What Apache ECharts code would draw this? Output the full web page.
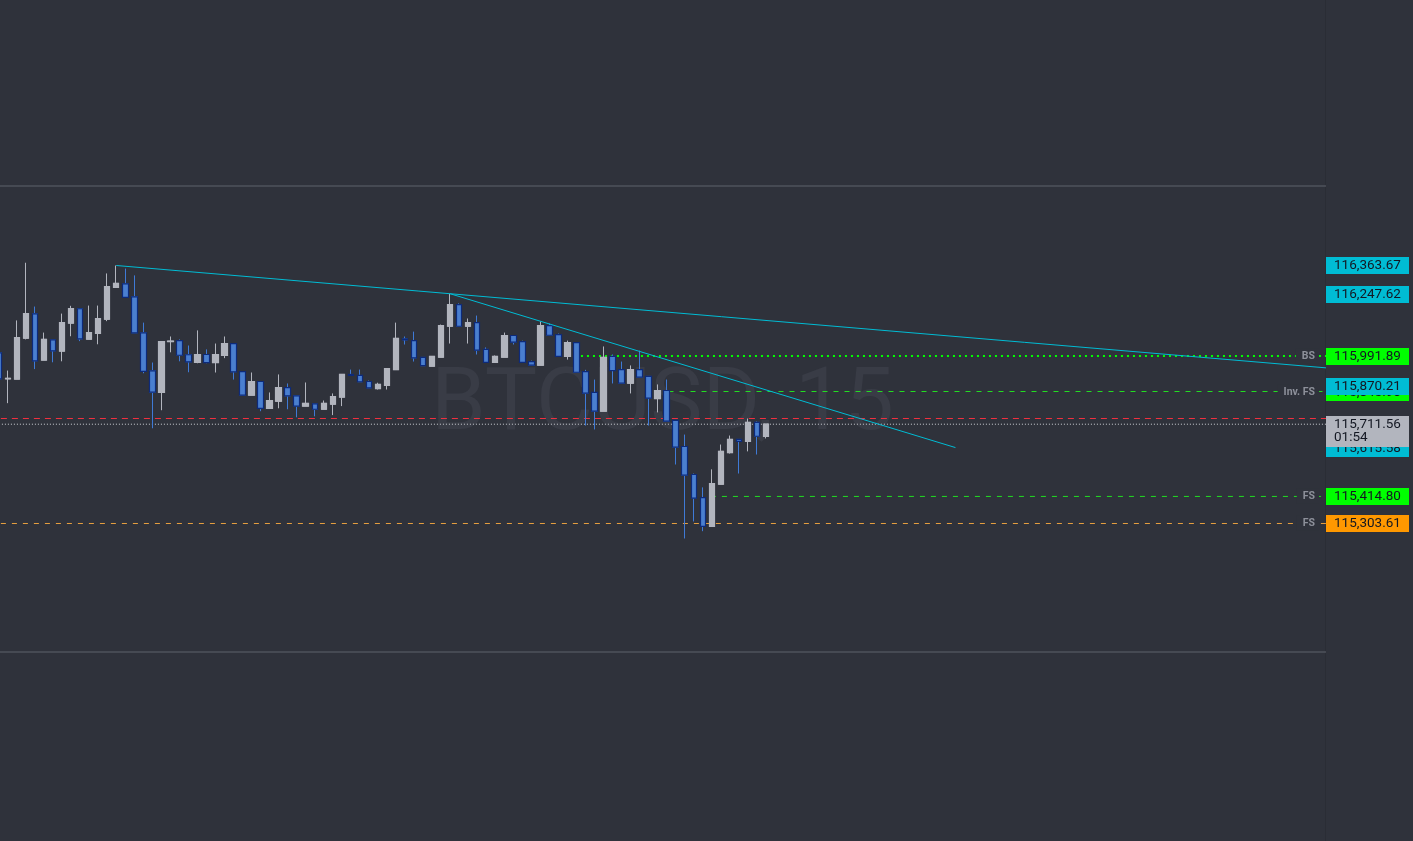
<!DOCTYPE html>
<html>
<head>
<meta charset="utf-8">
<script src="https://cdn.jsdelivr.net/npm/echarts@6/dist/echarts.min.js"></script>
<style>
html,body{margin:0;padding:0;background:#2f323b;}
#c{width:1413px;height:841px;}
</style>
</head>
<body>
<div id="c"></div>
<script>
// ---- data (BTCUSD, 15m) ----
const opens  = [116005,115898,115897,116065,116165,115975,116058,116012,116127,116186,116061,116085,116143,116274,116288,116235,116087,115931,115842,116051,116055,115997,115966,115998,115965,115994,116043,115928,115831,115887,115777,115806,115862,115828,115786,115795,115773,115794,115823,115916,115912,115887,115858,115871,115936,116062,116055,115986,115950,115987,116114,116203,116114,116129,116019,115966,115987,116076,116051,115969,115954,116117,116080,115990,116047,115928,115842,115765,115990,115936,115880,115936,115908,115817,115850,115727,115620,115505,115410,115292,115465,115595,115649,115641,115719,115661];
const closes = [115898,115900,116067,116166,115972,116060,116013,116129,116187,116062,116088,116145,116277,116290,116233,116087,115929,115843,116051,116053,115995,115968,115998,115965,115998,116043,115927,115831,115887,115777,115809,115862,115828,115786,115797,115773,115797,115825,115916,115912,115886,115861,115875,115940,116064,116058,115984,115952,115990,116117,116203,116114,116129,116016,115966,115990,116076,116049,115966,115954,116117,116077,115990,116047,115925,115839,115765,115986,115932,115880,115936,115905,115819,115850,115724,115617,115502,115408,115292,115468,115600,115649,115641,115719,115662,115711.56];
const lows   = [115891,115798,115897,116060,115938,115975,115966,115970,116073,116053,116061,116040,116135,116274,116233,116087,115921,115695,115769,116007,115970,115925,115962,115962,115924,115983,115895,115831,115831,115765,115777,115777,115773,115740,115786,115744,115773,115749,115786,115912,115886,115861,115854,115854,115936,116039,115969,115952,115950,115987,116043,116114,116043,115998,115966,115966,115987,116039,115966,115954,115954,116077,115990,115977,115925,115706,115690,115765,115879,115880,115838,115905,115706,115760,115724,115546,115242,115312,115272,115292,115465,115591,115509,115600,115587,115653];
const highs  = [116014,115932,116138,116375,116195,116088,116058,116166,116198,116186,116199,116199,116331,116363.67,116351,116323,116129,115965,116051,116072,116060,116035,116097,116019,116043,116072,116043,115928,115924,115887,115842,115916,115879,115828,115883,115795,115809,115838,115916,115936,115936,115891,115882,115940,116129,116072,116092,115986,115990,116121,116247.62,116208,116146,116158,116027,115994,116088,116076,116055,115973,116134,116125,116084,116055,116047,115935,115895,116031,115998,115969,115953,116014,115908,115875,115895,115727,115669,115509,115452,115526,115628,115665,115649,115735,115723,115711.56];

// trend lines [candle index, price]
const upperTrend = [[13, 116363.67], [170.3, 115870.21]];
const lowerTrend = [[50, 116247.62], [106, 115615.58]];

// horizontal levels
const currentPrice = 115711.56;
const countdown = '01:54';
const redLevel = 115735;
const bsLevel = {price: 115991.89, from: 64.5, name: 'BS'};
const invFsLevel = {price: 115845.90, from: 74.2, name: 'Inv. FS'};
const fsGreenLevel = {price: 115414.80, from: 78.9, name: 'FS'};
const fsOrangeLevel = {price: 115303.61, from: -1, name: 'FS'};
const rangeTop = 116690.3;
const rangeBottom = 114775.6;

const X_MIN = 0.12, X_MAX = 146.95;
const Y_MIN = 113999.05, Y_MAX = 117454.55;

const C_UP = '#b2b5be', C_DN = '#4a7fd0', C_DN_BORDER = '#0d2a7a', C_WICK_DN = '#3f7ad6';
const CYAN = '#00bcd4', GREEN = '#00ff00', ORANGE = '#ff9800';

const wickData = opens.map((o, i) => [i, o, closes[i], lows[i], highs[i]]);
const bodyData = opens.map((o, i) => [i, o, closes[i], Math.min(o, closes[i]), Math.max(o, closes[i])]);

function hLine(price, from, color, type, width, z) {
  return {
    type: 'line', data: [[from, price], [150, price]], symbol: 'none', silent: true,
    lineStyle: {color: color, type: type, width: width}, z: z || 3, animation: false
  };
}

const chart = echarts.init(document.getElementById('c'), null, {renderer: 'canvas'});
const option = {
  backgroundColor: '#2f323b',
  animation: false,
  grid: {left: 0, right: 88, top: 0, bottom: 0, show: false},
  xAxis: {type: 'value', min: X_MIN, max: X_MAX, show: false},
  yAxis: {type: 'value', min: Y_MIN, max: Y_MAX, position: 'right', show: false, scale: true},
  series: [
    hLine(rangeTop, -1, '#5f626d', 'solid', 1, 1),
    hLine(rangeBottom, -1, '#5f626d', 'solid', 1, 1),
    hLine(redLevel, -1, '#f0303f', [6, 5], 1, 2),
    hLine(currentPrice, -1, '#d0d2d8', [1, 2], 1, 2),
    hLine(bsLevel.price, bsLevel.from, GREEN, [2, 4], 2, 2),
    hLine(invFsLevel.price, invFsLevel.from, '#22dd22', [5, 6], 1, 2),
    hLine(fsGreenLevel.price, fsGreenLevel.from, '#22dd22', [5, 6], 1, 2),
    hLine(fsOrangeLevel.price, fsOrangeLevel.from, '#e8a040', [5, 6], 1, 2),
    {
      type: 'candlestick', data: wickData, encode: {x: 0, y: [1, 2, 3, 4]},
      barWidth: 6, z: 4,
      itemStyle: {color: C_UP, color0: C_WICK_DN, borderColor: C_UP, borderColor0: C_WICK_DN, borderWidth: 1}
    },
    {
      type: 'candlestick', data: bodyData, encode: {x: 0, y: [1, 2, 3, 4]},
      barWidth: 6, z: 5,
      itemStyle: {color: C_UP, color0: C_DN, borderColor: C_UP, borderColor0: C_DN_BORDER, borderWidth: 1.2}
    },
    {type: 'line', data: upperTrend, symbol: 'none', lineStyle: {color: CYAN, width: 1}, z: 6, silent: true},
    {type: 'line', data: lowerTrend, symbol: 'none', lineStyle: {color: CYAN, width: 1}, z: 6, silent: true}
  ]
};
chart.setOption(option);

function py(price) { return chart.convertToPixel({xAxisIndex: 0, yAxisIndex: 0}, [0, price])[1]; }
function fmt(v) { return v.toLocaleString('en-US', {minimumFractionDigits: 2, maximumFractionDigits: 2}); }

const graphics = [];
// watermark
graphics.push({
  type: 'text', x: 662.5, y: 407, z: 0, silent: true,
  style: {text: 'BTCUSD, 15', fill: '#393c46', font: '400 88px Roboto', align: 'center', verticalAlign: 'middle'}
});
// price axis separator
graphics.push({type: 'rect', shape: {x: 1325, y: 0, width: 1, height: 841}, style: {fill: '#2a2d35'}, z: 1});

function priceLabel(price, bg, z) {
  const y = py(price);
  graphics.push({
    type: 'group', z: z,
    children: [
      {type: 'rect', shape: {x: 1326, y: Math.round(y) - 8, width: 83, height: 17}, style: {fill: bg}},
      {type: 'text', x: 1334, y: Math.round(y) + 0.5, style: {text: fmt(price), fill: '#131722', font: '13.5px Roboto', verticalAlign: 'middle'}}
    ]
  });
}
function levelTag(level) {
  const y = py(level.price);
  graphics.push({
    type: 'text', x: 1319, y: Math.round(y), z: 20,
    style: {text: level.name, fill: '#8d909a', font: 'bold 10.5px Roboto', align: 'right', verticalAlign: 'middle',
            backgroundColor: '#2f323b', padding: [2, 4, 2, 6]}
  });
}
levelTag(bsLevel); levelTag(invFsLevel); levelTag(fsGreenLevel); levelTag(fsOrangeLevel);

priceLabel(upperTrend[0][1], CYAN, 30);
priceLabel(lowerTrend[0][1], CYAN, 30);
priceLabel(bsLevel.price, GREEN, 30);
priceLabel(invFsLevel.price, GREEN, 30);
priceLabel(upperTrend[1][1], CYAN, 31);
priceLabel(lowerTrend[1][1], CYAN, 30);
priceLabel(fsGreenLevel.price, GREEN, 30);
priceLabel(fsOrangeLevel.price, ORANGE, 30);
// current price label with countdown
(function () {
  const y = Math.round(py(currentPrice));
  graphics.push({
    type: 'group', z: 40,
    children: [
      {type: 'rect', shape: {x: 1326, y: y - 8, width: 83, height: 31}, style: {fill: '#b2b5be'}},
      {type: 'text', x: 1334, y: y + 0.5, style: {text: fmt(currentPrice), fill: '#131722', font: '13.5px Roboto', verticalAlign: 'middle'}},
      {type: 'text', x: 1334, y: y + 14, style: {text: countdown, fill: '#131722', font: '13.5px Roboto', verticalAlign: 'middle'}}
    ]
  });
})();

chart.setOption({graphic: graphics});
</script>
</body>
</html>
